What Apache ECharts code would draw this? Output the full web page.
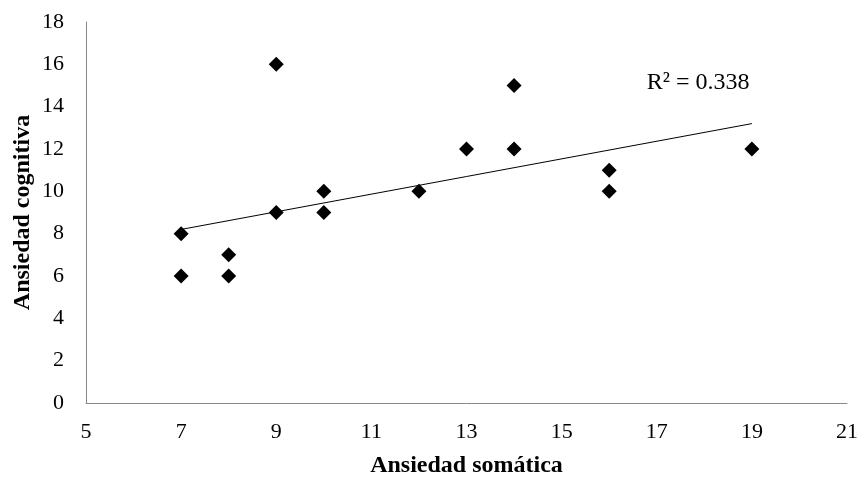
<!DOCTYPE html>
<html>
<head>
<meta charset="utf-8">
<script src="https://cdn.jsdelivr.net/npm/echarts@6/dist/echarts.min.js"></script>
<style>html,body{margin:0;padding:0;background:#fff;}#c{width:859px;height:480px;}</style>
</head>
<body>
<div id="c"></div>
<script>
// Data
var somatica = [7, 7, 8, 8, 9, 9, 10, 10, 12, 13, 14, 14, 16, 16, 19];
var cognitiva = [8, 6, 7, 6, 16, 9, 10, 9, 10, 12, 15, 12, 11, 10, 12];
var trendX = [7, 19];
var trendY = [8.2, 13.2];
var r2Label = 'R² = 0.338';
var r2Pos = [17.87, 15.15];
var xTicks = [5, 7, 9, 11, 13, 15, 17, 19, 21];
var yTicks = [0, 2, 4, 6, 8, 10, 12, 14, 16, 18];

var pts = somatica.map(function (x, i) { return [x, cognitiva[i]]; });
var trend = trendX.map(function (x, i) { return [x, trendY[i]]; });
var font = '"Liberation Serif", "Times New Roman", serif';

var chart = echarts.init(document.getElementById('c'));
chart.setOption({
  animation: false,
  backgroundColor: '#fff',
  grid: { left: 86, top: 22, right: 12, bottom: 77, containLabel: false, outerBoundsMode: 'none' },
  xAxis: {
    type: 'value', min: xTicks[0], max: xTicks[xTicks.length - 1], interval: 2,
    name: 'Ansiedad somática', nameLocation: 'middle', nameGap: 51, nameMoveOverlap: false,
    nameTextStyle: { fontFamily: font, fontSize: 24, fontWeight: 'bold', color: '#000' },
    axisLine: { show: true, lineStyle: { color: '#898989', width: 1 } },
    axisTick: { show: false },
    splitLine: { show: false },
    axisLabel: { fontFamily: font, fontSize: 22, color: '#000', margin: 18 }
  },
  yAxis: {
    type: 'value', min: yTicks[0], max: yTicks[yTicks.length - 1], interval: 2,
    name: 'Ansiedad cognitiva', nameLocation: 'middle', nameGap: 51, nameMoveOverlap: false,
    nameTextStyle: { fontFamily: font, fontSize: 24, fontWeight: 'bold', color: '#000' },
    axisLine: { show: true, lineStyle: { color: '#898989', width: 1 } },
    axisTick: { show: false },
    splitLine: { show: false },
    axisLabel: { fontFamily: font, fontSize: 22, color: '#000', margin: 22 }
  },
  series: [
    {
      type: 'line', data: trend, symbol: 'none', silent: true,
      lineStyle: { color: '#000', width: 1 },
      markPoint: {
        symbol: 'rect', symbolSize: 1,
        itemStyle: { color: 'rgba(0,0,0,0)' },
        data: [{ coord: r2Pos, value: r2Label }],
        label: { show: true, formatter: r2Label, fontFamily: font, fontSize: 24, color: '#000', position: 'inside' }
      }
    },
    {
      type: 'scatter', data: pts, symbol: 'diamond', symbolSize: [15, 15],
      itemStyle: { color: '#000', opacity: 1 }
    }
  ]
});
</script>
</body>
</html>
